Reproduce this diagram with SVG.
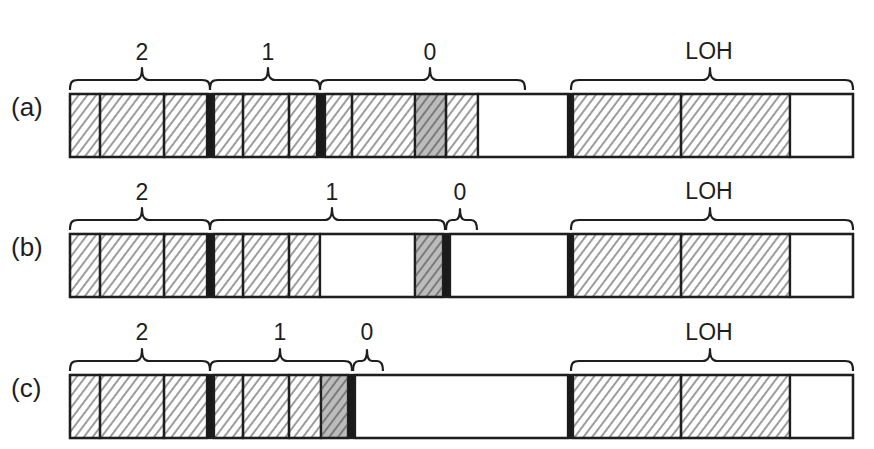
<svg xmlns="http://www.w3.org/2000/svg" width="874" height="449" viewBox="0 0 874 449">
<defs>
<pattern id="hatch" patternUnits="userSpaceOnUse" width="7" height="20" patternTransform="rotate(37)">
<line x1="1" y1="-5" x2="1" y2="25" stroke="#3a3a3a" stroke-width="1"/>
</pattern>
<style>
.h{fill:url(#hatch);stroke:#1e1e1e;stroke-width:2.3}
.g{fill:#bcbcbc;stroke:#1e1e1e;stroke-width:2.3}
.gh{fill:url(#hatch);stroke:none}
.w{fill:#fff;stroke:#1e1e1e;stroke-width:2.3}
.k{fill:#1a1a1a;stroke:none}
.frame{fill:none;stroke:#1e1e1e;stroke-width:2.3}
.br{fill:none;stroke:#1e1e1e;stroke-width:2.2;stroke-linejoin:round}
.lbl{font-family:"Liberation Sans",Arial,sans-serif;font-size:23px;fill:#1e1e1e;text-anchor:middle}
.row{font-family:"Liberation Sans",Arial,sans-serif;font-size:26px;fill:#1e1e1e}
</style>
</defs>
<rect width="874" height="449" fill="#fff"/>

<g id="row-a">
<text class="row" x="11" y="116">(a)</text>
<rect class="h" x="70" y="94" width="30" height="63"/>
<rect class="h" x="100" y="94" width="64" height="63"/>
<rect class="h" x="164" y="94" width="43" height="63"/>
<rect class="k" x="207" y="94" width="7" height="63"/>
<rect class="h" x="214" y="94" width="29" height="63"/>
<rect class="h" x="243" y="94" width="46" height="63"/>
<rect class="h" x="289" y="94" width="28" height="63"/>
<rect class="k" x="317" y="94" width="8" height="63"/>
<rect class="h" x="325" y="94" width="27" height="63"/>
<rect class="h" x="352" y="94" width="63" height="63"/>
<rect class="g" x="415" y="94" width="31" height="63"/>
<rect class="gh" x="415" y="94" width="31" height="63"/>
<rect class="h" x="446" y="94" width="32" height="63"/>
<rect class="w" x="478" y="94" width="90" height="63"/>
<rect class="k" x="567" y="94" width="6" height="63"/>
<rect class="h" x="573" y="94" width="108" height="63"/>
<rect class="h" x="681" y="94" width="109" height="63"/>
<rect class="w" x="790" y="94" width="63" height="63"/>
<rect class="frame" x="70" y="94" width="783" height="63"/>
</g>

<g id="row-b">
<text class="row" x="11" y="256">(b)</text>
<rect class="h" x="70" y="234" width="30" height="63"/>
<rect class="h" x="100" y="234" width="64" height="63"/>
<rect class="h" x="164" y="234" width="43" height="63"/>
<rect class="k" x="207" y="234" width="7" height="63"/>
<rect class="h" x="214" y="234" width="29" height="63"/>
<rect class="h" x="243" y="234" width="46" height="63"/>
<rect class="h" x="289" y="234" width="31" height="63"/>
<rect class="w" x="320" y="234" width="95" height="63"/>
<rect class="g" x="415" y="234" width="28" height="63"/>
<rect class="gh" x="415" y="234" width="28" height="63"/>
<rect class="k" x="443" y="234" width="7" height="63"/>
<rect class="w" x="450" y="234" width="118" height="63"/>
<rect class="k" x="567" y="234" width="6" height="63"/>
<rect class="h" x="573" y="234" width="108" height="63"/>
<rect class="h" x="681" y="234" width="109" height="63"/>
<rect class="w" x="790" y="234" width="63" height="63"/>
<rect class="frame" x="70" y="234" width="783" height="63"/>
</g>

<g id="row-c">
<text class="row" x="11" y="397">(c)</text>
<rect class="h" x="70" y="375" width="30" height="63"/>
<rect class="h" x="100" y="375" width="64" height="63"/>
<rect class="h" x="164" y="375" width="43" height="63"/>
<rect class="k" x="207" y="375" width="7" height="63"/>
<rect class="h" x="214" y="375" width="29" height="63"/>
<rect class="h" x="243" y="375" width="46" height="63"/>
<rect class="h" x="289" y="375" width="32" height="63"/>
<rect class="g" x="321" y="375" width="27" height="63"/>
<rect class="gh" x="321" y="375" width="27" height="63"/>
<rect class="k" x="348" y="375" width="7" height="63"/>
<rect class="w" x="355" y="375" width="213" height="63"/>
<rect class="k" x="567" y="375" width="6" height="63"/>
<rect class="h" x="573" y="375" width="108" height="63"/>
<rect class="h" x="681" y="375" width="109" height="63"/>
<rect class="w" x="790" y="375" width="63" height="63"/>
<rect class="frame" x="70" y="375" width="783" height="63"/>
</g>

<g id="braces">
<path class="br" d="M70,90 C70,82 72,80 78,80 L135,80 C139,80 142,78 142,68 C142,78 145,80 149,80 L202,80 C208,80 210,82 210,90"/>
<path class="br" d="M210,90 C210,82 212,80 218,80 L261,80 C265,80 268,78 268,68 C268,78 271,80 275,80 L312,80 C318,80 320,82 320,90"/>
<path class="br" d="M320,90 C320,82 322,80 328,80 L423,80 C427,80 430,78 430,68 C430,78 433,80 437,80 L517,80 C523,80 525,82 525,90"/>
<path class="br" d="M571,90 C571,82 573,80 579,80 L703,80 C707,80 710,78 710,68 C710,78 713,80 717,80 L845,80 C851,80 853,82 853,90"/>
<path class="br" d="M70,230 C70,222 72,220 78,220 L135,220 C139,220 142,218 142,208 C142,218 145,220 149,220 L202,220 C208,220 210,222 210,230"/>
<path class="br" d="M210,230 C210,222 212,220 218,220 L325,220 C329,220 332,218 332,208 C332,218 335,220 339,220 L437,220 C443,220 445,222 445,230"/>
<path class="br" d="M446,230 C446,223 448,220 452,220 L455,220 C458,220 460,218 460,209 C460,218 462,220 465,220 L471,220 C475,220 477,223 477,230"/>
<path class="br" d="M571,230 C571,222 573,220 579,220 L703,220 C707,220 710,218 710,208 C710,218 713,220 717,220 L845,220 C851,220 853,222 853,230"/>
<path class="br" d="M70,371 C70,363 72,361 78,361 L135,361 C139,361 142,359 142,349 C142,359 145,361 149,361 L202,361 C208,361 210,363 210,371"/>
<path class="br" d="M210,371 C210,363 212,361 218,361 L273,361 C277,361 280,359 280,349 C280,359 283,361 287,361 L344,361 C350,361 352,363 352,371"/>
<path class="br" d="M353,371 C353,364 355,361 359,361 L362,361 C365,361 367,359 367,350 C367,359 369,361 372,361 L377,361 C381,361 383,364 383,371"/>
<path class="br" d="M571,371 C571,363 573,361 579,361 L703,361 C707,361 710,359 710,349 C710,359 713,361 717,361 L845,361 C851,361 853,363 853,371"/>
</g>

<g id="labels">
<text class="lbl" x="142" y="60">2</text>
<text class="lbl" x="268" y="60">1</text>
<text class="lbl" x="430" y="60">0</text>
<text class="lbl" x="709" y="59">LOH</text>
<text class="lbl" x="142" y="200">2</text>
<text class="lbl" x="332" y="200">1</text>
<text class="lbl" x="460" y="200">0</text>
<text class="lbl" x="709" y="199">LOH</text>
<text class="lbl" x="142" y="340">2</text>
<text class="lbl" x="280" y="340">1</text>
<text class="lbl" x="367" y="340">0</text>
<text class="lbl" x="709" y="340">LOH</text>
</g>
</svg>
